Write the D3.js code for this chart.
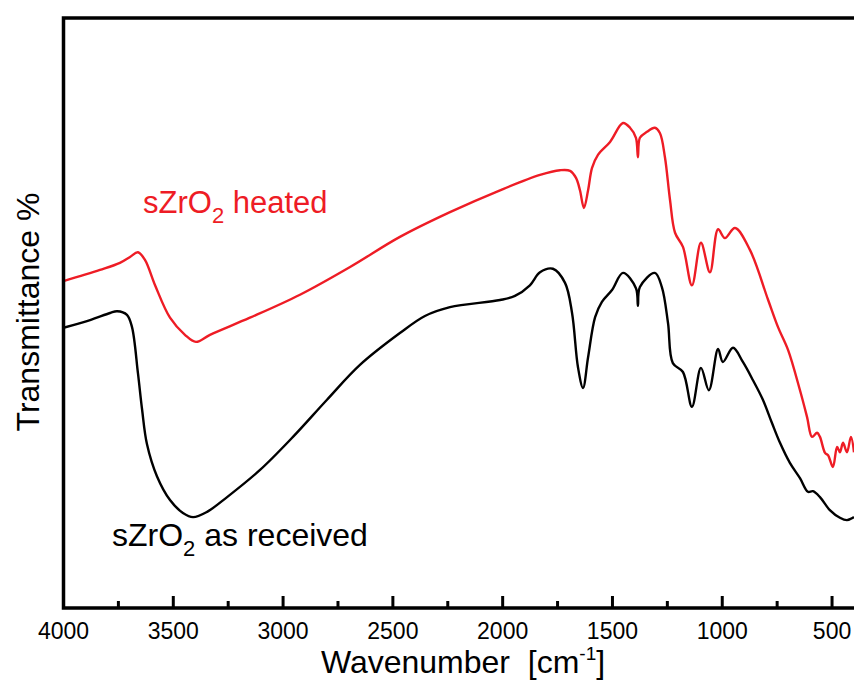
<!DOCTYPE html>
<html>
<head>
<meta charset="utf-8">
<script src="https://cdn.jsdelivr.net/npm/d3@7"></script>
<style>
  body { margin: 0; background: #fff; }
  svg { display: block; font-family: "Liberation Sans", Arial, sans-serif; }
</style>
</head>
<body>
<svg id="chart"></svg>
<script>
// FTIR spectra, wavenumber (cm-1) vs transmittance (arbitrary %)
var heatedWave = [4000,3834,3743,3697,3661,3629,3583,3515,3447,3397,3333,3151,2923,2695,2468,2240,2012,1830,1739,1693,1666,1648,1630,1611,1593,1566,1511,1452,1420,1393,1384,1375,1343,1307,1284,1261,1238,1215,1179,1138,1097,1056,1019,988,942,874,791,746,700,646,614,591,568,555,532,518,496,477,464,450,432,414,400];
var heatedT    = [55.4,57.3,58.5,59.5,60.3,59.0,54.7,49.2,46.3,45.1,46.3,49.2,53.1,57.8,62.9,67.1,70.8,73.4,74.2,74.1,72.9,70.8,67.8,70.8,74.6,76.8,79.0,82.2,81.4,79.7,76.4,79.7,80.7,81.4,80.5,76.4,69.2,63.6,61.2,54.7,61.9,56.9,64.2,62.7,64.4,60.7,52.2,47.6,43.7,36.9,32.4,29.0,29.7,29.0,26.3,25.9,23.9,27.3,26.4,28.0,26.4,29.0,26.4];

var receivedWave = [4000,3879,3788,3756,3711,3688,3661,3642,3620,3574,3515,3456,3410,3346,3255,3105,2955,2800,2650,2468,2354,2240,2012,1944,1876,1830,1771,1716,1684,1657,1634,1611,1579,1548,1502,1452,1393,1384,1375,1307,1275,1247,1225,1179,1138,1097,1061,1019,997,951,906,860,815,774,737,692,646,610,587,555,510,464,432,400];
var receivedT    = [47.5,48.8,50.0,50.3,49.7,47.6,39.8,33.6,27.8,22.3,18.3,16.1,15.4,16.3,18.8,23.4,29.0,35.3,41.2,46.6,49.5,51.0,52.2,52.9,54.7,56.9,57.5,55.1,50.0,40.8,37.3,42.5,49.3,51.9,53.9,56.8,54.2,51.2,54.4,56.8,54.4,48.3,41.5,40.0,34.1,40.7,36.9,43.9,41.7,44.1,41.7,38.6,35.3,31.4,28.0,24.6,22.0,19.7,19.8,18.8,16.6,15.3,14.9,15.4];

var majorTicks = [4000,3500,3000,2500,2000,1500,1000,500];
var minorTicks = [3750,3250,2750,2250,1750,1250,750];

var width = 854, height = 684;
var left = 63.5, bottom = 608, plotTop = 18;

var svg = d3.select("#chart")
    .attr("width", width)
    .attr("height", height);

var x = d3.scaleLinear().domain([4000, 400]).range([left, width]);
var y = d3.scaleLinear().domain([0, 100]).range([bottom, 18]);

var line = d3.line()
    .x(d => x(d[0]))
    .y(d => y(d[1]))
    .curve(d3.curveCatmullRom.alpha(0.5));

// spectra
svg.append("path")
    .datum(d3.zip(heatedWave, heatedT))
    .attr("d", line)
    .attr("fill", "none")
    .attr("stroke", "#ee1c25")
    .attr("stroke-width", 2.4)
    .attr("stroke-linejoin", "round");

svg.append("path")
    .datum(d3.zip(receivedWave, receivedT))
    .attr("d", line)
    .attr("fill", "none")
    .attr("stroke", "#000")
    .attr("stroke-width", 2.4)
    .attr("stroke-linejoin", "round");

// frame (right side is cut off)
svg.append("path")
    .attr("d", "M" + (width + 5) + "," + plotTop + "H" + left + "V" + bottom + "H" + (width + 5))
    .attr("fill", "none")
    .attr("stroke", "#000")
    .attr("stroke-width", 3.5);

// x axis ticks, pointing inward
var xAxis = svg.append("g").attr("class", "x-axis");

xAxis.selectAll("line.major")
    .data(majorTicks)
    .enter()
    .append("line")
    .attr("x1", d => x(d))
    .attr("x2", d => x(d))
    .attr("y1", bottom)
    .attr("y2", bottom - 12)
    .attr("stroke", "#000")
    .attr("stroke-width", 3);

xAxis.selectAll("line.minor")
    .data(minorTicks)
    .enter()
    .append("line")
    .attr("x1", d => x(d))
    .attr("x2", d => x(d))
    .attr("y1", bottom)
    .attr("y2", bottom - 7)
    .attr("stroke", "#000")
    .attr("stroke-width", 3);

xAxis.selectAll("text")
    .data(majorTicks)
    .enter()
    .append("text")
    .attr("x", d => x(d))
    .attr("y", 639)
    .attr("text-anchor", "middle")
    .style("font-size", "23px")
    .text(d => d);

// axis titles
var xTitle = svg.append("text")
    .attr("x", 463)
    .attr("y", 673)
    .attr("text-anchor", "middle")
    .style("font-size", "32px");
xTitle.append("tspan").text("Wavenumber\u00a0\u00a0[cm");
xTitle.append("tspan").attr("dy", -13).style("font-size", "19px").text("-1");
xTitle.append("tspan").attr("dy", 13).text("]");

svg.append("text")
    .attr("transform", "translate(39,312) rotate(-90)")
    .attr("text-anchor", "middle")
    .style("font-size", "32px")
    .text("Transmittance %");

// labels
function label(xp, yp, color, rest, size) {
    var t = svg.append("text")
        .attr("x", xp)
        .attr("y", yp)
        .attr("fill", color)
        .style("font-size", size + "px");
    t.append("tspan").text("sZrO");
    t.append("tspan").attr("dy", 10).style("font-size", "22px").text("2");
    t.append("tspan").attr("dy", -10).text(" " + rest);
}
label(143, 213, "#ee1c25", "heated", 31);
label(112, 546, "#000", "as received", 32);
</script>
</body>
</html>
